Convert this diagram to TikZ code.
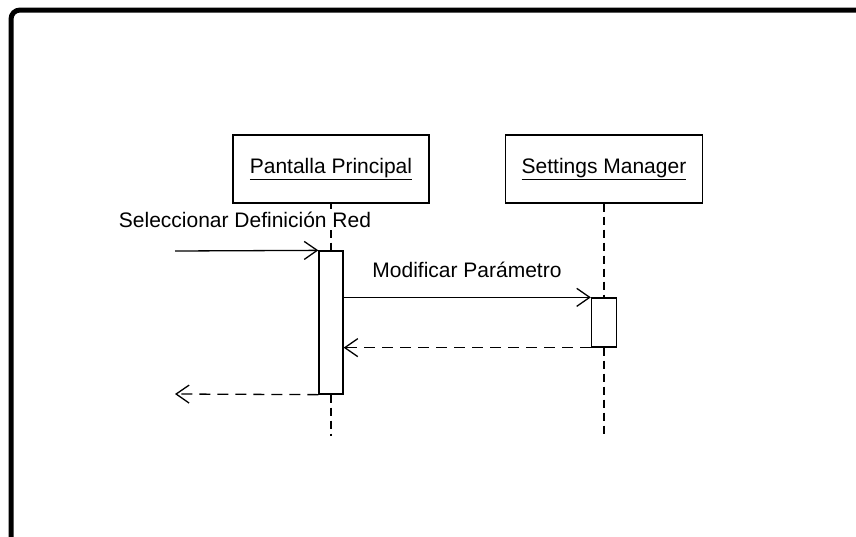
\documentclass[tikz,border=0pt]{standalone}
\usepackage{fontspec}
\setmainfont{Liberation Sans}
\usetikzlibrary{arrows.meta}
\begin{document}
\begin{tikzpicture}[x=1pt,y=-1pt,
  font=\fontsize{21}{25}\selectfont,
  head/.style={draw, line width=1.3pt, minimum height=68pt, inner sep=0pt},
  actbox/.style={draw, line width=1.3pt, fill=white, minimum width=24pt, inner sep=0pt},
  life/.style={line width=1.2pt, dash pattern=on 8pt off 5pt},
  msg/.style={line width=1.3pt, -{Straight Barb[length=13pt,width=18pt,line width=1.3pt]}},
  reply/.style={msg, dash pattern=on 11pt off 7pt},
  lbl/.style={fill=white, inner sep=3pt, anchor=base}]
\useasboundingbox (0,0) rectangle (856,536);
\clip (0,0) rectangle (856,536);
% frame
\draw[line width=5pt, rounded corners=9pt] (11,10) rectangle (890,570);
% object heads
\node[head, minimum width=196pt] (pp) at (331,169) {\underline{Pantalla Principal}};
\node[head, minimum width=197pt] (sm) at (604,169) {\underline{Settings Manager}};
% activation bars
\node[actbox, minimum height=143pt] (act1) at (331,322.5) {};
\node[actbox, minimum width=25pt, minimum height=49pt] (act2) at (604,322.5) {};
% lifelines
\coordinate (ll1end) at (331,436);
\coordinate (ll2end) at (604,436);
\draw[life] (pp.south) -- (act1.north);
\draw[life] (act1.south) -- (ll1end);
\draw[life] (sm.south) -- (act2.north);
\draw[life] (act2.south) -- (ll2end);
% messages
\coordinate (in1) at (175,251);
\coordinate (out1) at (175,394);
\draw[msg] (in1) -- (act1.north west);
\node[lbl] (l1) at (245,227) {Seleccionar Definición Red};
\draw[msg] (act1.east |- act2.north west) -- (act2.north west);
\node[lbl] (l2) at (467,277) {Modificar Parámetro};
\draw[reply] (act2.south west) -- (act1.east |- act2.south west);
\draw[reply] (act1.south west) -- (out1);
\end{tikzpicture}
\end{document}
